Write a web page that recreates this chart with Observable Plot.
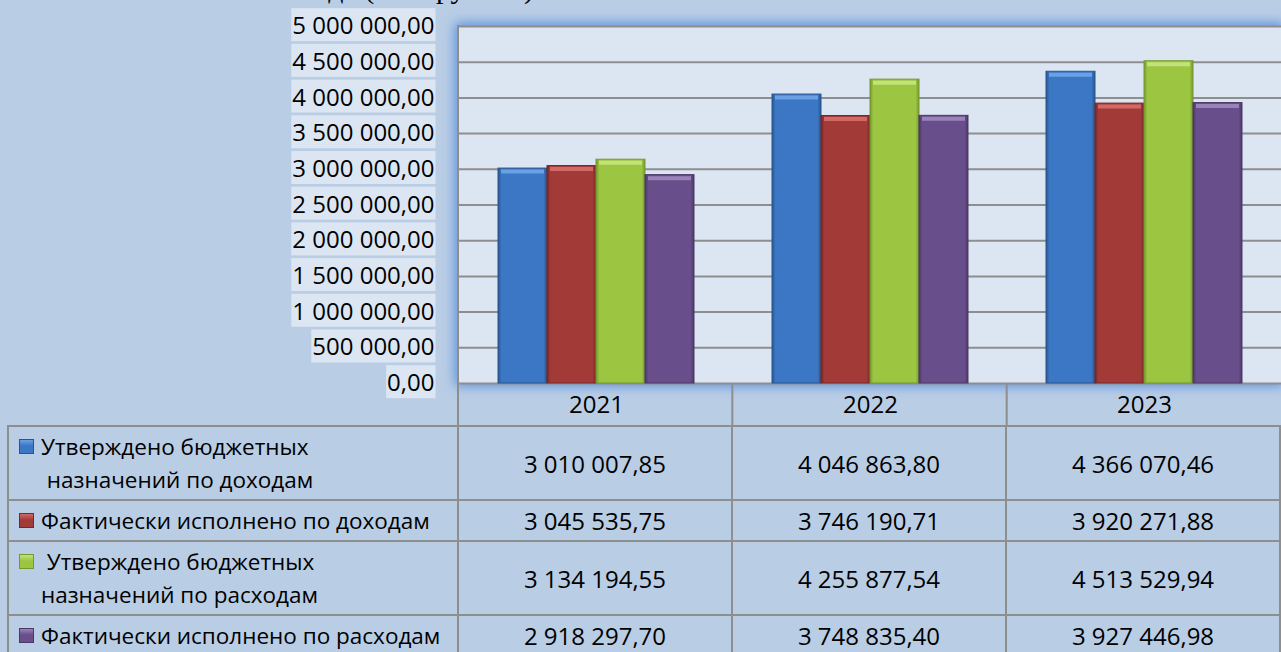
<!DOCTYPE html>
<html>
<head>
<meta charset="utf-8">
<script src="https://cdn.jsdelivr.net/npm/d3@7"></script>
<script src="https://cdn.jsdelivr.net/npm/@observablehq/plot@0.6"></script>
<style>
html, body { margin: 0; padding: 0; background: #b9cde5; overflow: hidden; }
#wrap { position: relative; width: 1281px; height: 652px; overflow: hidden; background: #b9cde5; font-family: 'Open Sans', sans-serif; }
#title { position: absolute; left: 0; width: 534px; text-align: right; top: -27px; font: 30px/30px 'Liberation Serif', serif; color: #000; white-space: nowrap; }
#chart { position: absolute; left: 0; top: 0; }
#chart svg text { font-family: 'Open Sans', sans-serif; font-size: 24px; fill: #000; }
table { position: absolute; left: 7px; top: 425px; border-collapse: collapse; table-layout: fixed; font-size: 24px; color: #000; }
td { border: 2px solid #8e8e8e; padding: 0; }
tr.two { height: 74px; }
tr.one { height: 41px; }
td.val { text-align: center; vertical-align: middle; }
td.lab { vertical-align: middle; font-size: 22.5px; }
.labin { display: flex; align-items: flex-start; padding-left: 10px; }
.key { flex: none; width: 15px; height: 15px; margin-top: 9px; margin-right: 7px; border: 1px solid; box-sizing: border-box; }
.txt { white-space: pre; line-height: 33px; }
</style>
</head>
<body>
<div id="wrap">
  <svg width="0" height="0" style="position:absolute">
    <defs id="defs">
      <filter id="glow" x="-10%" y="-20%" width="120%" height="140%">
        <feGaussianBlur stdDeviation="6"/>
      </filter>
    </defs>
  </svg>
  <div id="title">года (тыс. рублей)</div>
  <div id="chart"></div>
</div>
<script>
// ---- data ----
const years = ["2021", "2022", "2023"];
const seriesNames = [
  "Утверждено бюджетных назначений по доходам",
  "Фактически исполнено по доходам",
  "Утверждено бюджетных назначений по расходам",
  "Фактически исполнено по расходам"
];
const seriesLines = [
  ["Утверждено бюджетных", " назначений по доходам"],
  ["Фактически исполнено по доходам"],
  [" Утверждено бюджетных", "назначений по расходам"],
  ["Фактически исполнено по расходам"]
];
const approvedIncome = [3010007.85, 4046863.80, 4366070.46];
const actualIncome   = [3045535.75, 3746190.71, 3920271.88];
const approvedSpend  = [3134194.55, 4255877.54, 4513529.94];
const actualSpend    = [2918297.70, 3748835.40, 3927446.98];
const seriesValues = [approvedIncome, actualIncome, approvedSpend, actualSpend];
const yTicks = [0, 500000, 1000000, 1500000, 2000000, 2500000, 3000000, 3500000, 4000000, 4500000, 5000000];

// ---- colours ----
const seriesBase  = ["#3b77c4", "#a23b38", "#9cc642", "#684e8a"];
const seriesDark  = ["#27558f", "#762826", "#76982f", "#4b3866"];
const seriesLight = ["#6aa0e4", "#d06a66", "#c2e27a", "#9a83b8"];

// gradients
const defs = d3.select("#defs");
seriesBase.forEach((c, i) => {
  const g = defs.append("linearGradient").attr("id", "g" + i).attr("x1", 0).attr("x2", 1).attr("y1", 0).attr("y2", 0);
  g.append("stop").attr("offset", "0%").attr("stop-color", seriesDark[i]);
  g.append("stop").attr("offset", "7%").attr("stop-color", c);
  g.append("stop").attr("offset", "93%").attr("stop-color", c);
  g.append("stop").attr("offset", "100%").attr("stop-color", seriesDark[i]);
});

const rows = [];
years.forEach((yr, j) => seriesNames.forEach((s, i) => rows.push({year: yr, series: s, value: seriesValues[i][j]})));

const ru = d3.formatLocale({decimal: ",", thousands: " ", grouping: [3], currency: ["", ""]});
const fmt = ru.format(",.2f");

const W = 1281, H = 426, ML = 458, MT = 26, MB = 43, MR = 0;

const plot = Plot.plot({
  width: W,
  height: H,
  marginLeft: ML,
  marginRight: MR,
  marginTop: MT,
  marginBottom: MB,
  style: "background: transparent; overflow: visible; max-width: none;",
  facet: {data: rows, x: "year"},
  fx: {domain: years, padding: 0, axis: "bottom", tickSize: 0, tickPadding: 12, label: null},
  x: {domain: seriesNames, paddingInner: 0, paddingOuter: 0.743, axis: null},
  y: {domain: [0, 5000000], ticks: yTicks, tickFormat: fmt, tickSize: 0, tickPadding: 25, label: null, axis: "left"},
  marks: [
    Plot.frame({fill: "#dce6f2", stroke: "none", insetLeft: -1, insetRight: -1}),
    Plot.ruleY(yTicks, {stroke: "#8e8e8e", strokeWidth: 2}),
    ...seriesNames.map((s, i) => Plot.barY(rows, {
      filter: d => d.series === s, x: "series", y: "value",
      fill: `url(#g${i})`, stroke: seriesDark[i], strokeWidth: 1
    })),
    ...seriesNames.map((s, i) => Plot.tickY(rows, {
      filter: d => d.series === s, x: "series", y: "value",
      stroke: seriesLight[i], strokeWidth: 4, dy: 3, insetLeft: 3, insetRight: 3
    }))
  ]
});

document.getElementById("chart").append(plot);

// ---- decorations derived from the scales ----
const ys = plot.scale("y");
const yTop = ys.apply(5000000), yBot = ys.apply(0);
const fxd = plot.scale("fx");
const fxs = d3.scaleBand(fxd.domain, fxd.range).padding(0);
const x0 = fxd.range[0], x1 = fxd.range[1];
const svgRect = plot.getBoundingClientRect();

const styleEl = plot.querySelector("style");
const back = document.createElementNS("http://www.w3.org/2000/svg", "g");
plot.insertBefore(back, styleEl ? styleEl.nextSibling : plot.firstChild);
const bg = d3.select(back);
bg.append("rect").attr("x", x0 - 3).attr("y", yTop - 3).attr("width", x1 - x0 + 6).attr("height", yBot - yTop + 6)
  .attr("fill", "#5a92dc").attr("filter", "url(#glow)");

// tick label backgrounds
plot.querySelectorAll("text").forEach(t => {
  const r = t.getBoundingClientRect();
  if (r.right - svgRect.left < x0 - 5 && r.bottom - svgRect.top < yBot + 20) {
    const cy = (r.top + r.bottom) / 2 - svgRect.top;
    bg.append("rect").attr("x", r.left - svgRect.left - 1).attr("y", cy - 16.5)
      .attr("width", r.width + 2).attr("height", 33).attr("fill", "#dce6f2");
  }
});

const front = d3.select(plot).append("g");
front.append("line").attr("x1", x0).attr("x2", x0).attr("y1", yTop - 1).attr("y2", H)
  .attr("stroke", "#8e8e8e").attr("stroke-width", 2);
years.forEach(yr => {
  const xx = fxs(yr);
  front.append("line").attr("x1", xx).attr("x2", xx).attr("y1", yBot).attr("y2", H)
    .attr("stroke", "#8e8e8e").attr("stroke-width", 2);
});

// ---- data table ----
const colW = (x1 - x0) / years.length;
const table = d3.select("#wrap").append("table");
const cg = table.append("colgroup");
cg.append("col").style("width", (x0 - 8) + "px");
years.forEach(() => cg.append("col").style("width", colW + "px"));
seriesNames.forEach((s, i) => {
  const tr = table.append("tr").attr("class", seriesLines[i].length > 1 ? "two" : "one");
  const lab = tr.append("td").attr("class", "lab").append("div").attr("class", "labin");
  lab.append("span").attr("class", "key")
    .style("background", `linear-gradient(to bottom, ${seriesLight[i]} 0%, ${seriesBase[i]} 45%, ${seriesBase[i]} 100%)`)
    .style("border-color", seriesDark[i]);
  lab.append("div").attr("class", "txt").text(seriesLines[i].join("\n"));
  seriesValues[i].forEach(v => tr.append("td").attr("class", "val").text(fmt(v)));
});
</script>
</body>
</html>
